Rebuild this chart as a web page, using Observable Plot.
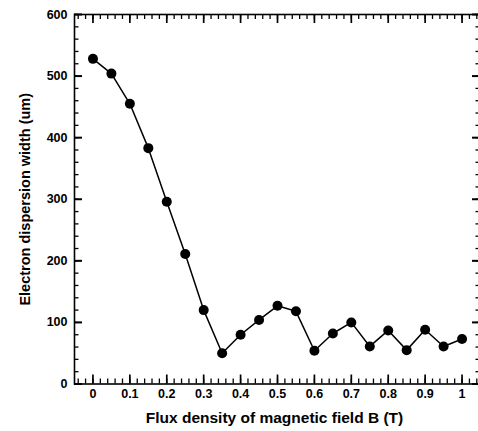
<!DOCTYPE html>
<html>
<head>
<meta charset="utf-8">
<script src="https://cdn.jsdelivr.net/npm/d3@7"></script>
<script src="https://cdn.jsdelivr.net/npm/@observablehq/plot@0.6"></script>
<style>
  html, body { margin: 0; padding: 0; background: #fff; overflow: hidden; }
  #chart svg { display: block; overflow: visible; }
</style>
</head>
<body>
<div id="chart"></div>
<script>
// Flux density of magnetic field B (T)
const fluxDensity = [0, 0.05, 0.1, 0.15, 0.2, 0.25, 0.3, 0.35, 0.4, 0.45, 0.5,
                     0.55, 0.6, 0.65, 0.7, 0.75, 0.8, 0.85, 0.9, 0.95, 1.0];
// Electron dispersion width (um)
const dispersionWidth = [528, 504, 455, 383, 296, 211, 120, 50, 80, 104, 127,
                         118, 54, 82, 100, 61, 87, 55, 88, 61, 73];
const xTickLabels = [0, 0.1, 0.2, 0.3, 0.4, 0.5, 0.6, 0.7, 0.8, 0.9, 1];
const xMinorTicks = d3.range(-2, 53).map(i => i / 50);
const yTickLabels = [0, 100, 200, 300, 400, 500, 600];
const yMinorTicks = d3.range(0, 31).map(i => i * 20);
const xLabel = "Flux density of magnetic field B (T)";
const yLabel = "Electron dispersion width (um)";

const data = fluxDensity.map((b, i) => ({b, w: dispersionWidth[i]}));
const fmtX = d => d === 0 ? "0" : d === 1 ? "1" : d3.format(".1f")(d);
const font = "'Liberation Sans', Arial, sans-serif";

const W = 478, H = 431;
const M = {left: 74, right: -2, top: 14, bottom: 47.5};
const frameW = W - M.left - M.right;
const frameH = H - M.top - M.bottom;

// inward tick marks: rules spanning the frame, inset so only a short stub remains
const ticksX = (values, side, len, sw) => Plot.ruleX(values, {
  x: d => d, stroke: "#000", strokeWidth: sw,
  [side === "bottom" ? "insetTop" : "insetBottom"]: frameH - len
});
const ticksY = (values, side, len, sw) => Plot.ruleY(values, {
  y: d => d, stroke: "#000", strokeWidth: sw,
  [side === "left" ? "insetRight" : "insetLeft"]: frameW - len
});

const plot = Plot.plot({
  width: W,
  height: H,
  marginLeft: M.left,
  marginRight: M.right,
  marginTop: M.top,
  marginBottom: M.bottom,
  style: {fontFamily: font, fontWeight: "bold", fontSize: "12.5px", color: "#000", background: "#fff"},
  x: {domain: [-0.05, 1.05]},
  y: {domain: [0, 600]},
  marks: [
    Plot.frame({stroke: "#000", strokeWidth: 1.6}),
    // minor ticks
    ticksX(xMinorTicks, "bottom", 5, 1.3),
    ticksX(xMinorTicks, "top", 5, 1.3),
    ticksY(yMinorTicks, "left", 4.5, 1.3),
    ticksY(yMinorTicks, "right", 4.5, 1.3),
    // major ticks
    ticksX(xTickLabels, "bottom", 9, 1.7),
    ticksX(xTickLabels, "top", 9, 1.7),
    ticksY(yTickLabels, "left", 8, 2),
    ticksY(yTickLabels, "right", 8, 2),
    // tick labels
    Plot.axisX(xTickLabels, {anchor: "bottom", tickSize: 0, tickPadding: 5.5, tickFormat: fmtX, label: null, fill: "#000"}),
    Plot.axisY(yTickLabels, {anchor: "left", tickSize: 0, tickPadding: 7, label: null, fill: "#000"}),
    // axis titles
    Plot.text([xLabel], {frameAnchor: "bottom", dy: 38.5, dx: -3, text: d => d, fontSize: 15.5, fontWeight: "bold", fill: "#000"}),
    Plot.text([yLabel], {frameAnchor: "left", dx: -49, rotate: -90, textAnchor: "middle", text: d => d, fontSize: 14.5, fontWeight: "bold", fill: "#000"}),
    // data
    Plot.line(data, {x: "b", y: "w", stroke: "#000", strokeWidth: 1.5}),
    Plot.dot(data, {x: "b", y: "w", r: 5, fill: "#000", stroke: "none"})
  ]
});
document.getElementById("chart").appendChild(plot);
</script>
</body>
</html>
